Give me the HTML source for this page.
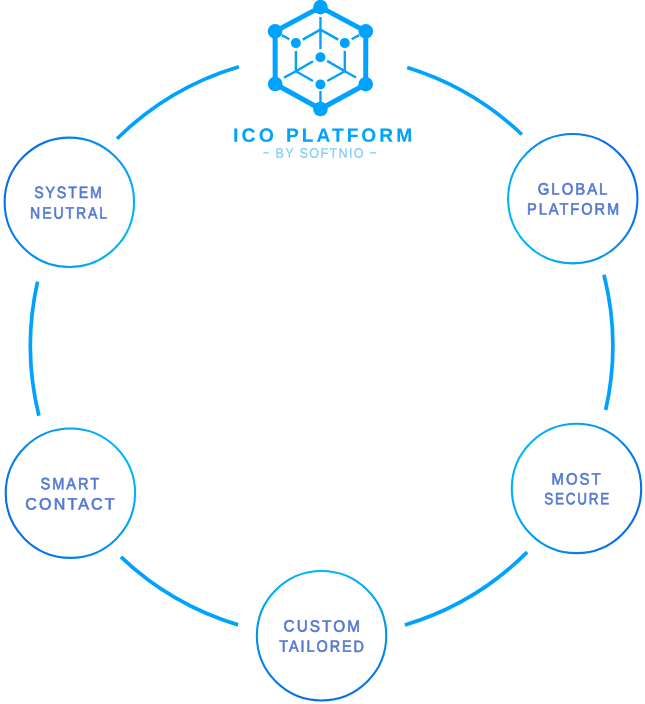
<!DOCTYPE html>
<html><head><meta charset="utf-8"><style>
html,body{margin:0;padding:0;background:#fff;}
body{width:645px;height:704px;position:relative;overflow:hidden;font-family:"Liberation Sans",sans-serif;}
svg{position:absolute;left:0;top:0;will-change:transform;}
text{font-family:"Liberation Sans",sans-serif;text-anchor:middle;}
.c{font-size:16.4px;fill:#5479d2;stroke:#5479d2;stroke-width:0.65px;font-weight:400;letter-spacing:2.2px;}
.t1{font-size:19.2px;fill:#00a2ff;font-weight:700;stroke:#00a2ff;stroke-width:0.12px;letter-spacing:3.0px;}
.t2{font-size:13.8px;fill:#7ccdfb;font-weight:400;stroke:#7ccdfb;stroke-width:0.2px;letter-spacing:1.5px;}
</style></head><body>
<svg width="645" height="704" viewBox="0 0 645 704">
<defs><linearGradient id="g0" gradientUnits="userSpaceOnUse" x1="13.12" y1="170.29" x2="125.58" y2="234.31"><stop offset="0" stop-color="#0a6ce6"/><stop offset="1" stop-color="#00b6f7"/></linearGradient><linearGradient id="g1" gradientUnits="userSpaceOnUse" x1="628.56" y1="165.93" x2="516.94" y2="231.37"><stop offset="0" stop-color="#0a6ce6"/><stop offset="1" stop-color="#00b6f7"/></linearGradient><linearGradient id="g2" gradientUnits="userSpaceOnUse" x1="632.97" y1="519.97" x2="520.03" y2="456.83"><stop offset="0" stop-color="#0a6ce6"/><stop offset="1" stop-color="#00b6f7"/></linearGradient><linearGradient id="g3" gradientUnits="userSpaceOnUse" x1="321.54" y1="700.45" x2="321.56" y2="571.05"><stop offset="0" stop-color="#0a6ce6"/><stop offset="1" stop-color="#00b6f7"/></linearGradient><linearGradient id="g4" gradientUnits="userSpaceOnUse" x1="14.58" y1="525.87" x2="126.22" y2="460.43"><stop offset="0" stop-color="#0a6ce6"/><stop offset="1" stop-color="#00b6f7"/></linearGradient></defs>
<path d="M116.99 138.70A291.2 291.2 0 0 1 238.89 66.69M407.22 67.57A291.2 291.2 0 0 1 521.90 134.53M603.96 274.71A291.2 291.2 0 0 1 605.66 409.97M527.15 552.17A291.2 291.2 0 0 1 404.84 624.95M238.07 624.86A291.2 291.2 0 0 1 120.93 556.92M38.92 415.81A291.2 291.2 0 0 1 37.59 281.58" fill="none" stroke="#00a2ff" stroke-width="3.7" stroke-linecap="butt"/>
<circle cx="69.35" cy="202.3" r="64.7" fill="none" stroke="url(#g0)" stroke-width="2.1"/><circle cx="572.75" cy="198.65" r="64.7" fill="none" stroke="url(#g1)" stroke-width="2.1"/><circle cx="576.5" cy="488.4" r="64.7" fill="none" stroke="url(#g2)" stroke-width="2.1"/><circle cx="321.55" cy="635.75" r="64.7" fill="none" stroke="url(#g3)" stroke-width="2.1"/><circle cx="70.4" cy="493.15" r="64.7" fill="none" stroke="url(#g4)" stroke-width="2.1"/>
<g stroke="#00a2ff" stroke-width="2.4" stroke-linecap="butt"><line x1="320.45" y1="17" x2="320.45" y2="49"/><line x1="320.45" y1="29.6" x2="302.7" y2="39.6"/><line x1="320.45" y1="29.6" x2="338.2" y2="39.6"/><line x1="281.7" y1="35.1" x2="289.3" y2="39.3"/><line x1="359.2" y1="35.1" x2="351.6" y2="39.3"/><line x1="295.9" y1="51" x2="295.9" y2="71.3"/><line x1="344.8" y1="51" x2="344.8" y2="71.3"/><line x1="295.9" y1="71.3" x2="284.0" y2="77.6"/><line x1="344.8" y1="71.3" x2="356.0" y2="77.5"/><line x1="295.9" y1="71.3" x2="313.0" y2="61.2"/><line x1="344.8" y1="71.3" x2="327.1" y2="60.9"/><line x1="295.9" y1="71.3" x2="313.0" y2="81.0"/><line x1="344.8" y1="71.3" x2="327.2" y2="81.0"/><line x1="320.45" y1="91" x2="320.45" y2="102"/></g>
<polygon points="320.45,7.1 365.8,31.4 365.7,84.2 320.45,109 275.2,84.0 275.1,31.4" fill="none" stroke="#00a2ff" stroke-width="5" stroke-linejoin="round"/>
<g fill="#00a2ff"><circle cx="320.45" cy="7.1" r="7.3"/><circle cx="275.1" cy="31.4" r="7.3"/><circle cx="365.8" cy="31.4" r="7.3"/><circle cx="275.2" cy="84.0" r="7.3"/><circle cx="365.7" cy="84.2" r="7.3"/><circle cx="320.45" cy="109" r="7.3"/><circle cx="295.9" cy="43.1" r="5"/><circle cx="344.8" cy="43.1" r="5"/><circle cx="320.45" cy="57.2" r="5"/><circle cx="320.45" cy="84.4" r="5"/></g>
<text class="t1" transform="rotate(0.06 255.04 141.75)" x="255.04" y="141.75" textLength="43.98" lengthAdjust="spacingAndGlyphs">ICO</text><text class="t1" transform="rotate(0.06 350.57 141.75)" x="350.57" y="141.75" textLength="129.07" lengthAdjust="spacingAndGlyphs">PLATFORM</text><text class="t2" transform="rotate(0.06 320.24 157.75)" x="320.24" y="157.75" textLength="89.40" lengthAdjust="spacingAndGlyphs">BY SOFTNIO</text><text class="c" transform="rotate(0.06 68.96 198.05)" x="68.96" y="198.05" textLength="69.61" lengthAdjust="spacingAndGlyphs">SYSTEM</text><text class="c" transform="rotate(0.06 69.54 218.55)" x="69.54" y="218.55" textLength="78.90" lengthAdjust="spacingAndGlyphs">NEUTRAL</text><text class="c" transform="rotate(0.06 573.59 194.55)" x="573.59" y="194.55" textLength="71.56" lengthAdjust="spacingAndGlyphs">GLOBAL</text><text class="c" transform="rotate(0.06 574.07 214.55)" x="574.07" y="214.55" textLength="93.96" lengthAdjust="spacingAndGlyphs">PLATFORM</text><text class="c" transform="rotate(0.06 577.12 484.45)" x="577.12" y="484.45" textLength="51.18" lengthAdjust="spacingAndGlyphs">MOST</text><text class="c" transform="rotate(0.06 577.65 504.35)" x="577.65" y="504.35" textLength="67.00" lengthAdjust="spacingAndGlyphs">SECURE</text><text class="c" transform="rotate(0.06 322.82 631.65)" x="322.82" y="631.65" textLength="78.46" lengthAdjust="spacingAndGlyphs">CUSTOM</text><text class="c" transform="rotate(0.06 322.65 651.85)" x="322.65" y="651.85" textLength="86.56" lengthAdjust="spacingAndGlyphs">TAILORED</text><text class="c" transform="rotate(0.06 70.84 489.25)" x="70.84" y="489.25" textLength="60.50" lengthAdjust="spacingAndGlyphs">SMART</text><text class="c" transform="rotate(0.06 71.04 509.45)" x="71.04" y="509.45" textLength="91.46" lengthAdjust="spacingAndGlyphs">CONTACT</text>
<rect x="263.3" y="152.2" width="5.6" height="1.3" fill="#7ccdfb"/><rect x="370.2" y="152.2" width="5.8" height="1.3" fill="#7ccdfb"/>
</svg>
</body></html>
